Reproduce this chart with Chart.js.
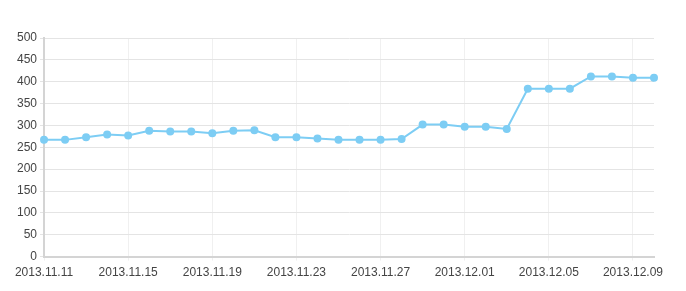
<!DOCTYPE html>
<html>
<head>
<meta charset="utf-8">
<script src="https://cdn.jsdelivr.net/npm/chart.js@4/dist/chart.umd.min.js"></script>
<style>
  html, body { margin: 0; padding: 0; background: #fff; }
  #wrap { width: 686px; height: 291px; }
</style>
</head>
<body>
<div id="wrap"><canvas id="c"></canvas></div>
<script>
// one point per day, 2013.11.11 .. 2013.12.10
const dates = [
  '2013.11.11', '2013.11.12', '2013.11.13', '2013.11.14', '2013.11.15',
  '2013.11.16', '2013.11.17', '2013.11.18', '2013.11.19', '2013.11.20',
  '2013.11.21', '2013.11.22', '2013.11.23', '2013.11.24', '2013.11.25',
  '2013.11.26', '2013.11.27', '2013.11.28', '2013.11.29', '2013.11.30',
  '2013.12.01', '2013.12.02', '2013.12.03', '2013.12.04', '2013.12.05',
  '2013.12.06', '2013.12.07', '2013.12.08', '2013.12.09', '2013.12.10'
];
const values = [
  267, 267, 273, 279, 277, 288, 286, 286, 282, 288,
  289, 273, 273, 270, 267, 267, 267, 269, 302, 302,
  297, 297, 292, 384, 384, 384, 412, 412, 409, 409
];
const yTicks = { min: 0, max: 500, step: 50 };
const labelEvery = 4;

const blue = '#7dcdf4';

new Chart(document.getElementById('c'), {
  type: 'line',
  data: {
    labels: dates,
    datasets: [{
      data: values,
      borderColor: blue,
      backgroundColor: blue,
      borderWidth: 2,
      pointRadius: 4,
      pointHoverRadius: 4,
      pointBackgroundColor: blue,
      pointBorderColor: blue,
      pointBorderWidth: 0,
      tension: 0,
      fill: false
    }]
  },
  options: {
    responsive: true,
    maintainAspectRatio: false,
    animation: false,
    layout: { padding: { top: 38, right: 32, left: 14, bottom: 6 } },
    plugins: { legend: { display: false }, tooltip: { enabled: false } },
    scales: {
      x: {
        offset: false,
        grid: { color: '#f0f0f0', lineWidth: 1, drawTicks: true, tickLength: 4 },
        border: { color: '#d4d4d4', width: 2 },
        ticks: {
          autoSkip: false,
          maxRotation: 0,
          color: '#444',
          font: { family: 'Arial, "Liberation Sans", sans-serif', size: 12 },
          padding: 5,
          callback: function (v, i) { return i % labelEvery === 0 ? dates[i] : null; }
        }
      },
      y: {
        min: yTicks.min,
        max: yTicks.max,
        grid: { color: '#e4e4e4', lineWidth: 1, tickLength: 4 },
        border: { color: '#d4d4d4', width: 2 },
        ticks: {
          stepSize: yTicks.step,
          color: '#444',
          font: { family: 'Arial, "Liberation Sans", sans-serif', size: 12 },
          padding: 3
        }
      }
    }
  }
});
</script>
</body>
</html>
